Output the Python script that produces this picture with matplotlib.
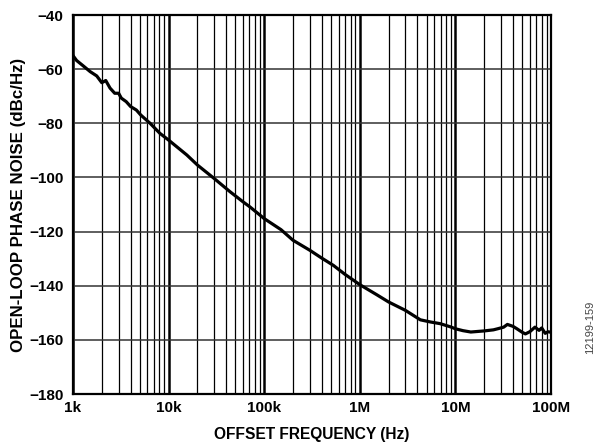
import matplotlib
matplotlib.use('Agg')
from matplotlib import pyplot as plt
from matplotlib.ticker import LogLocator, FixedLocator, NullFormatter
import numpy as np

plt.rcParams['font.family'] = ['Liberation Sans', 'DejaVu Sans']

# offset frequency (Hz) and open-loop phase noise (dBc/Hz)
freq = [1.0e3, 1.09e3, 1.28e3, 1.51e3, 1.77e3, 2.0e3, 2.2e3, 2.44e3, 2.73e3, 3.0e3,
        3.2e3, 3.6e3, 4.0e3, 4.6e3, 5.1e3, 6.4e3, 8.1e3, 1.0e4, 1.55e4, 2.0e4,
        3.0e4, 4.4e4, 6.0e4, 7.1e4, 1.0e5, 1.5e5, 2.0e5, 3.0e5, 4.0e5, 5.3e5,
        7.0e5, 1.0e6, 1.5e6, 2.0e6, 3.0e6, 4.3e6, 5.5e6, 6.9e6, 8.9e6, 1.0e7,
        1.2e7, 1.45e7, 2.0e7, 2.5e7, 2.77e7, 3.2e7, 3.5e7, 4.0e7, 4.4e7, 5.0e7,
        5.4e7, 6.0e7, 6.8e7, 7.5e7, 8.0e7, 8.7e7, 9.3e7, 1.0e8]
noise = [-55.0, -56.8, -58.8, -60.9, -62.5, -65.0, -64.2, -67.0, -68.9, -68.9,
         -70.7, -72.0, -73.8, -75.1, -76.9, -80.0, -83.7, -86.2, -91.7, -95.4,
         -100.4, -105.3, -109.0, -110.9, -115.2, -119.3, -123.2, -126.9, -129.8, -132.5,
         -135.8, -139.6, -143.3, -146.0, -149.1, -152.6, -153.4, -154.0, -155.2, -155.9,
         -156.6, -157.1, -156.7, -156.3, -155.9, -155.3, -154.3, -155.0, -155.9, -157.2,
         -157.8, -157.0, -155.3, -156.5, -155.6, -157.6, -157.0, -157.2]

y_ticks = [-180, -160, -140, -120, -100, -80, -60, -40]
x_ticks = [1e3, 1e4, 1e5, 1e6, 1e7, 1e8]
x_labels = ['1k', '10k', '100k', '1M', '10M', '100M']

fig = plt.figure(figsize=(6.0, 4.43), dpi=100)
ax = fig.add_axes([0.1217, 0.1106, 0.7966, 0.8555])

ax.plot(freq, noise, color='black', linewidth=2.3, zorder=3)

ax.set_xscale('log')
ax.set_xlim(1e3, 1e8)
ax.set_ylim(-180, -40)

ax.xaxis.set_major_locator(FixedLocator(x_ticks))
ax.set_xticklabels(x_labels)
ax.xaxis.set_minor_locator(LogLocator(base=10, subs=np.arange(2, 10)))
ax.xaxis.set_minor_formatter(NullFormatter())
ax.set_yticks(y_ticks)
ax.set_yticklabels(['\u2212' + str(abs(v)) for v in y_ticks])

ax.grid(True, which='major', axis='x', color='black', linewidth=1.8)
ax.grid(True, which='minor', axis='x', color='black', linewidth=0.9)
ax.grid(True, which='major', axis='y', color='#333333', linewidth=1.1)

ax.tick_params(which='both', length=0)
ax.tick_params(axis='x', pad=5)
ax.tick_params(axis='y', pad=7)
for lbl in ax.get_xticklabels() + ax.get_yticklabels():
    lbl.set_fontsize(11)
    lbl.set_fontweight('bold')

for sp in ax.spines.values():
    sp.set_linewidth(1.6)
    sp.set_color('black')

ax.set_xlabel('OFFSET FREQUENCY (Hz)', fontsize=11.2, fontweight='bold', labelpad=9)
ax.set_ylabel('OPEN-LOOP PHASE NOISE (dBc/Hz)', fontsize=12.2, fontweight='bold', labelpad=2)

fig.text(0.983, 0.26, '12199-159', rotation=90, fontsize=8, color='#444444',
         ha='center', va='center')

fig.savefig('out.png', dpi=100)
